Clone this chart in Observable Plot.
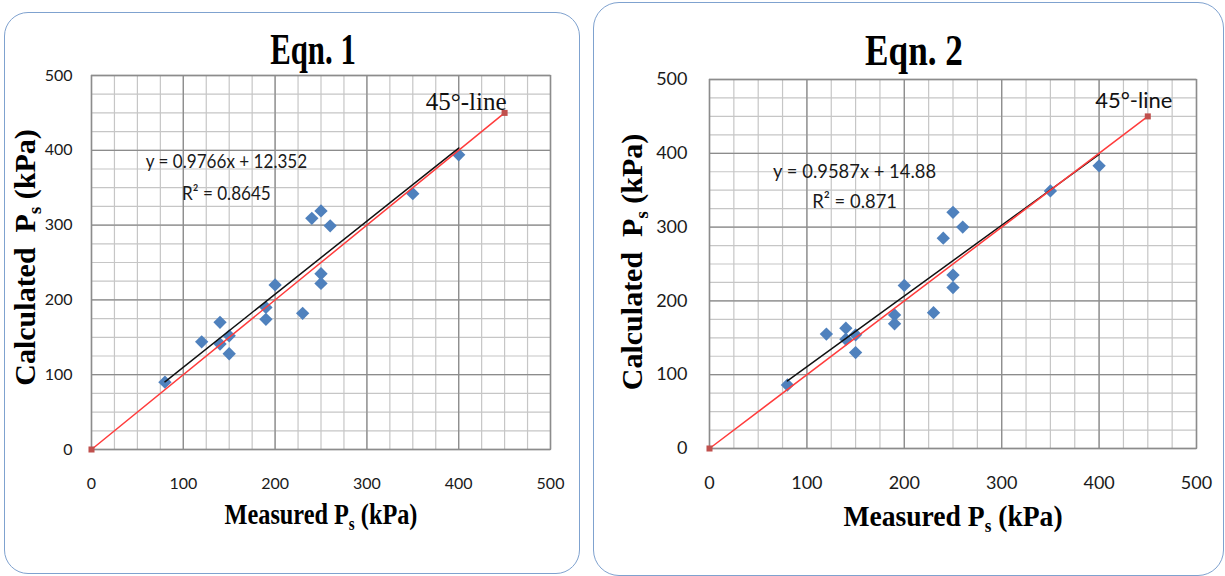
<!DOCTYPE html>
<html><head><meta charset="utf-8">
<script src="https://cdn.jsdelivr.net/npm/d3@7"></script>
<script src="https://cdn.jsdelivr.net/npm/@observablehq/plot@0.6"></script>
<style>
html,body{margin:0;padding:0;background:#fff;}
body{width:1225px;height:576px;position:relative;overflow:hidden;}
.panel{position:absolute;border:1.8px solid #7fa2cf;box-sizing:border-box;}
.title{position:absolute;font-family:"Liberation Serif",serif;font-weight:bold;font-size:44px;line-height:1;text-align:center;width:240px;white-space:nowrap;color:#000;}
.chart{position:absolute;top:0;}
</style></head><body>
<div class="panel" style="left:4px;top:12px;width:576px;height:562px;border-radius:24px;"></div>
<div class="panel" style="left:593px;top:2px;width:631px;height:574px;border-radius:26px;"></div>
<div id="c1" class="chart" style="left:0px;"></div>
<div id="c2" class="chart" style="left:590px;"></div>
<div class="title" style="left:193px;top:28px;transform:scaleX(0.7);">Eqn. 1</div>
<div class="title" style="left:794px;top:29px;transform:scaleX(0.8);">Eqn. 2</div>
<script>
// ---- data ----
const ticks = [0, 100, 200, 300, 400, 500];
const lineEnds = [0, 450];

const measured1   = [80, 120, 140, 140, 150, 150, 190, 190, 200, 230, 240, 250, 260, 250, 250, 350, 400];
const calculated1 = [90, 144, 170, 141, 152, 128, 190, 174, 220, 182, 309, 319, 299, 235, 222, 342, 394];
const slope1 = 0.9766, intercept1 = 12.352;
const eqText1 = "y = 0.9766x + 12.352";
const r2Text1 = "R\u00B2 = 0.8645";

const measured2   = [80, 120, 140, 140, 150, 150, 190, 190, 200, 230, 240, 250, 260, 250, 250, 350, 400];
const calculated2 = [86, 155, 163, 148, 154, 130, 181, 169, 221, 184, 285, 320, 300, 235, 218, 349, 383];
const slope2 = 0.9587, intercept2 = 14.88;
const eqText2 = "y = 0.9587x + 14.88";
const r2Text2 = "R\u00B2 = 0.871";

const xTitle = "Measured P_s (kPa)";
const yTitle = "Calculated  P_s (kPa)";
const diagTitle = "45\u00B0-line";

const NS = "http://www.w3.org/2000/svg";
function subscriptize(svg) {
  svg.querySelectorAll("text").forEach(t => {
    const s = t.textContent;
    const i = s.indexOf("_s");
    if (i < 0) return;
    t.textContent = "";
    const a = document.createElementNS(NS, "tspan"); a.textContent = s.slice(0, i);
    const b = document.createElementNS(NS, "tspan"); b.textContent = "s";
    b.setAttribute("font-size", "62%"); b.setAttribute("dy", "6");
    const c = document.createElementNS(NS, "tspan"); c.textContent = s.slice(i + 2);
    c.setAttribute("dy", "-6");
    t.append(a, b, c);
  });
}
function squeeze(svg, prefix, sx, sy) {
  svg.querySelectorAll("text").forEach(t => {
    if (t.textContent.startsWith(prefix)) {
      const tr = t.getAttribute("transform") || "";
      t.setAttribute("transform", tr + ` scale(${sx},${sy})`);
    }
  });
}

function panel(cfg) {
  const pts = cfg.measured.map((m, i) => ({m, c: cfg.calculated[i]}));
  const [x0, x1] = d3.extent(cfg.measured);
  const trend = [x0, x1].map(m => ({m, c: cfg.slope * m + cfg.intercept}));
  const diag = lineEnds.map(v => ({m: v, c: v}));
  const minor = d3.range(0, 501, 25);
  const svg = Plot.plot({
    width: cfg.width, height: 576,
    marginLeft: cfg.ml, marginRight: cfg.mr, marginTop: cfg.mt, marginBottom: cfg.mb,
    x: {domain: [0, 500], label: null},
    y: {domain: [0, 500], label: null},
    style: {fontFamily: "Lato", fontSize: cfg.tickFont + "px", color: "#1a1a1a", background: "transparent", overflow: "visible"},
    marks: [
      Plot.ruleX(minor, {stroke: "#c6c6c6", strokeWidth: 1.2}),
      Plot.ruleY(minor, {stroke: "#c6c6c6", strokeWidth: 1.2}),
      Plot.ruleX(ticks, {stroke: "#8c8c8c", strokeWidth: 1.3}),
      Plot.ruleY(ticks, {stroke: "#8c8c8c", strokeWidth: 1.3}),
      Plot.frame({stroke: "#8c8c8c", strokeWidth: 1.3}),
      Plot.axisX(ticks, {tickSize: 0, tickPadding: cfg.xPad, label: null, fontSize: cfg.tickFont}),
      Plot.axisY(ticks, {tickSize: 0, tickPadding: cfg.yPad, label: null, fontSize: cfg.tickFont}),
      Plot.dot(pts, {x: "m", y: "c", symbol: "diamond2", r: 6, fill: "#4f81bd"}),
      Plot.line(trend, {x: "m", y: "c", stroke: "#111", strokeWidth: 1.5}),
      Plot.line(diag, {x: "m", y: "c", stroke: "#ff3c3c", strokeWidth: 1.5}),
      Plot.dot(diag, {x: "m", y: "c", symbol: "square", r: 3.4, fill: "#c0504d"}),
      Plot.text([diag[1]], {x: "m", y: "c", text: () => diagTitle, textAnchor: cfg.diagAnchor,
        lineAnchor: "bottom", dx: cfg.diagDx, dy: cfg.diagDy, fontFamily: cfg.diagFont,
        fontSize: cfg.diagSize, fill: "#111"}),
      Plot.text([cfg.eq], {x: () => cfg.eqX, y: () => cfg.eqY, fontFamily: "Lato", fontSize: cfg.eqSize, fill: "#1a1a1a"}),
      Plot.text([cfg.r2], {x: () => cfg.eqX, y: () => cfg.r2Y, fontFamily: "Lato", fontSize: cfg.eqSize, fill: "#1a1a1a"}),
      Plot.text([xTitle], {frameAnchor: "bottom", textAnchor: "middle", dy: cfg.xtDy, fontFamily: "Liberation Serif",
        fontWeight: "bold", fontSize: 30, fill: "#000"}),
      Plot.text([yTitle], {frameAnchor: "left", textAnchor: "middle", rotate: -90, dx: cfg.ytDx, dy: cfg.ytDy,
        fontFamily: "Liberation Serif", fontWeight: "bold", fontSize: 30, fill: "#000"})
    ]
  });
  subscriptize(svg);
  squeeze(svg, "Measured", cfg.xtScale, 1);
  squeeze(svg, "y =", cfg.eqScale, 1);
  squeeze(svg, "R", cfg.eqScale, 1);
  document.getElementById(cfg.id).append(svg);
}

panel({id: "c1", width: 590, ml: 91, mr: 40, mt: 75, mb: 127, tickFont: 16, xPad: 28, yPad: 19,
  measured: measured1, calculated: calculated1, slope: slope1, intercept: intercept1,
  eq: eqText1, r2: r2Text1, eqX: 147, eqY: 384, r2Y: 342, eqSize: 19, eqScale: 0.9,
  diagAnchor: "end", diagDx: 2, diagDy: -3, diagFont: "Liberation Serif", diagSize: 25,
  xtDy: 74, xtScale: 0.81, ytDx: -66, ytDy: -5});

panel({id: "c2", width: 635, ml: 119, mr: 29, mt: 79, mb: 128, tickFont: 18, xPad: 28, yPad: 22,
  measured: measured2, calculated: calculated2, slope: slope2, intercept: intercept2,
  eq: eqText2, r2: r2Text2, eqX: 149, eqY: 375, r2Y: 335, eqSize: 20, eqScale: 0.92,
  diagAnchor: "middle", diagDx: -14, diagDy: -8, diagFont: "Lato", diagSize: 22,
  xtDy: 77, xtScale: 0.92, ytDx: -77, ytDy: -2});
</script>
</body></html>
